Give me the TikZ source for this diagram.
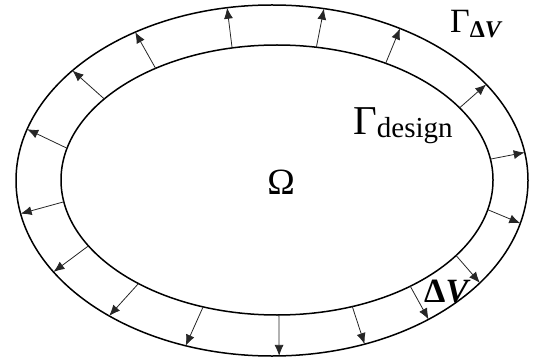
\documentclass[tikz,border=0pt]{standalone}
\usepackage{fontspec}
\setmainfont{Liberation Serif}
\usetikzlibrary{arrows.meta,calc}
\tikzset{
  bound/.style={line width=1.5pt, black},
  flux/.style={line width=0.8pt, black!85, -{Latex[length=11pt,width=9pt]}},
  lbl/.style={inner sep=0pt, anchor=base west}
}
\begin{document}
\begin{tikzpicture}[x=1pt,y=-1pt]
\useasboundingbox (0,0) rectangle (534,363);
% ellipses
\coordinate (ci) at (277,180);
\coordinate (co) at (272,180.5);
\draw[bound] (ci) ellipse [x radius=216, y radius=135];
\draw[bound] (co) ellipse [x radius=256, y radius=175.5];
% arrows: inner angle / outer angle
\foreach \n/\a/\b in {1/193.6/197.0, 2/216.9/218.8, 3/235.8/237.7, 4/258.0/259.9,
  5/280.5/281.7, 6/300.2/300.0, 7/327.7/326.8, 8/351.1/350.8,
  9/170.7/169.1, 10/150.8/148.6, 11/129.9/129.5, 12/110.0/109.7,
  13/89.5/88.4, 14/69.6/68.8, 15/51.9/52.3, 16/34.0/35.7, 17/12.7/14.1}{
  \coordinate (s\n) at ($(ci)+(\a:216 and 135)$);
  \coordinate (e\n) at ($(co)+(\b:256 and 175.5)$);
  \draw[flux] (s\n) -- (e\n);
}
% labels
\node[inner sep=0pt, anchor=base] (omega) at (281,194) {\fontsize{37}{40}\selectfont Ω};
\node[lbl] (gdesign) at (353,135) {\fontsize{41}{44}\selectfont Γ\raisebox{-3pt}{\fontsize{29}{31}\selectfont design}};
\node[lbl] (gdv) at (450,33) {\fontsize{34}{36}\selectfont Γ\raisebox{-5pt}{\fontsize{24}{26}\selectfont\bfseries Δ\textit{V}}};
\node[lbl] (dv) at (424,302) {\fontsize{34}{36}\selectfont\bfseries Δ\textit{V}};
\end{tikzpicture}
\end{document}
